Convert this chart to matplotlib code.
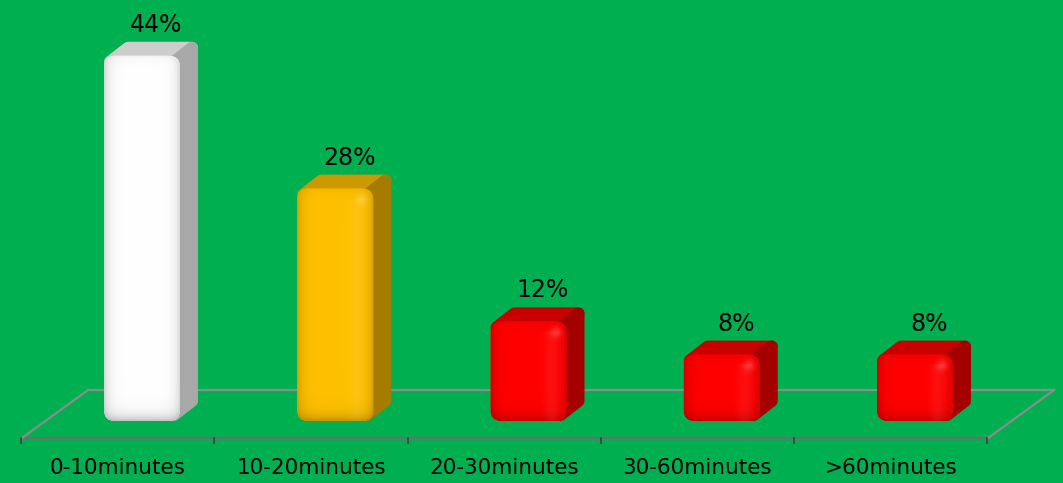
import numpy as np
import matplotlib
matplotlib.use("Agg")
import matplotlib.pyplot as plt
from matplotlib.patches import FancyBboxPatch, Polygon
from matplotlib.colors import to_rgb

categories = ["0-10minutes", "10-20minutes", "20-30minutes", "30-60minutes", ">60minutes"]
values = [44, 28, 12, 8, 8]
value_labels = ["44%", "28%", "12%", "8%", "8%"]
front_colors = ["#FFFFFF", "#FFC000", "#FF0000", "#FF0000", "#FF0000"]
top_colors = ["#CDCDCD", "#CC9900", "#C80000", "#C80000", "#C80000"]
side_colors = ["#A8A8A8", "#A67C00", "#A50000", "#A50000", "#A50000"]

BG = "#00B050"
W, H = 1063, 483

fig = plt.figure(figsize=(W / 100, H / 100), dpi=100)
fig.patch.set_facecolor(BG)

# plot area in pixels: one category = 193.25 px, one percent = 8.3 px
x_unit = 193.25
y_unit = 8.3
ymax = 50
left_px = 142 - x_unit * 0.5
base_px = 421
ax = fig.add_axes([left_px / W, (H - base_px) / H, 5 * x_unit / W, ymax * y_unit / H])
ax.set_xlim(-0.5, 4.5)
ax.set_ylim(0, ymax)
ax.axis("off")

sx = 1 / x_unit   # data units per pixel, x
sy = 1 / y_unit   # data units per pixel, y

# floor of the 3d plot
y_front = -17 * sy
y_back = 31 * sy
fx0, fx1 = -0.621, 4.378
ddx = 66 * sx
ax.plot([fx0, fx1], [y_front, y_front], color="#6E6E6E", lw=1.6, clip_on=False, zorder=1)
ax.plot([fx0 + ddx, fx1 + ddx], [y_back, y_back], color="#8C8C8C", lw=1.6, clip_on=False, zorder=1)
ax.plot([fx0, fx0 + ddx], [y_front, y_back], color="#8C8C8C", lw=1.6, clip_on=False, zorder=1)
ax.plot([fx1, fx1 + ddx], [y_front, y_back], color="#8C8C8C", lw=1.6, clip_on=False, zorder=1)
for k in range(len(categories) + 1):
    xt = -0.625 + k
    ax.plot([xt, xt], [y_front, y_front - 5 * sy], color="#404040", lw=1.2, clip_on=False, zorder=1)

for i, cat in enumerate(categories):
    ax.text(i - 0.125, -47 * sy, cat, ha="center", va="center", fontsize=15.5,
            color="black", clip_on=False)

hw = 38 * sx
dx, dy = 18 * sx, 14 * sy
rr = 6  # px, rounding of the depth faces
rad = 11  # px, rounding of the front face


def front_shading(base, w_px, h_px):
    yy, xx = np.mgrid[0:h_px, 0:w_px] + 0.5
    dl = xx
    dr = w_px - xx
    dt = yy
    db = h_px - yy
    f = (1 - 0.18 * np.exp(-dl / 5) - 0.15 * np.exp(-dr / 5)
         - 0.25 * np.exp(-db / 6) - 0.06 * np.exp(-dt / 4))
    f = np.clip(f, 0, 1)
    hl = 0.18 * np.exp(-((xx - (w_px - 11)) ** 2 + (yy - 11) ** 2) / 30)
    hl += 0.06 * np.exp(-((xx - w_px * 0.8) ** 2) / 60) * (yy > 10)
    rgb = np.array(to_rgb(base))[None, None, :] * f[..., None]
    rgb = rgb + (1 - rgb) * hl[..., None]
    return np.clip(rgb, 0, 1)


for i, v in enumerate(values):
    x0, x1 = i - hw, i + hw
    top = Polygon([(x0 + rr * sx, v - rr * sy), (x1 - rr * sx, v - rr * sy),
                   (x1 + dx - rr * sx, v + dy - rr * sy), (x0 + dx + rr * sx, v + dy - rr * sy)],
                  closed=True, facecolor=top_colors[i], edgecolor=top_colors[i],
                  lw=2 * rr * 0.72, joinstyle="round", zorder=3)
    side = Polygon([(x1 - rr * sx, v - rr * sy), (x1 + dx - rr * sx, v + dy - rr * sy),
                    (x1 + dx - rr * sx, dy + rr * sy), (x1 - rr * sx, rr * sy)],
                   closed=True, facecolor=side_colors[i], edgecolor=side_colors[i],
                   lw=2 * rr * 0.72, joinstyle="round", zorder=3)
    ax.add_patch(top)
    ax.add_patch(side)

    front = FancyBboxPatch((x0, 0), 2 * hw, v,
                           boxstyle=f"round,pad=0,rounding_size={rad * sx}",
                           mutation_aspect=sy / sx,
                           facecolor=front_colors[i], edgecolor="none", zorder=4)
    ax.add_patch(front)
    w_px = 76
    h_px = int(round(v / sy))
    im = ax.imshow(front_shading(front_colors[i], w_px, h_px), extent=(x0, x1, 0, v),
                   aspect="auto", interpolation="bilinear", zorder=5)
    im.set_clip_path(front)

    ax.text(i + 14 * sx, v + 31 * sy, value_labels[i], ha="center", va="center",
            fontsize=17, color="black", clip_on=False, zorder=6)

ax.set_xlim(-0.5, 4.5)
ax.set_ylim(0, ymax)

fig.savefig("out.png", dpi=100, facecolor=BG)
